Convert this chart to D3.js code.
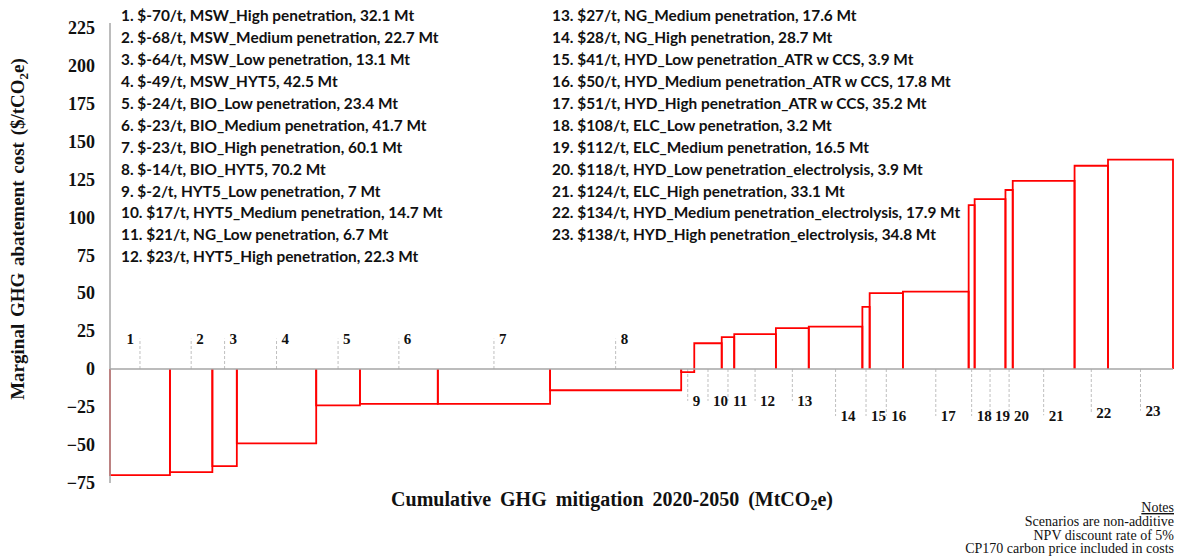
<!DOCTYPE html>
<html lang="en">
<head>
    <meta charset="utf-8">
    <title>Marginal abatement cost curve</title>
    <style type="text/css">
        body{ margin:0; background:#fff; }
        .legend text{ font-family: Lato, "DejaVu Sans", sans-serif; font-weight:700; font-size:15.4px; fill:#111; }
        .serif{ font-family: "Liberation Serif", "Times New Roman", serif; }
        .axis .domain{ stroke:#a6a6a6; stroke-width:1.5; }
        .axis text{ font-family: "Liberation Serif", serif; font-weight:700; font-size:18px; fill:#111; }
        .step{ fill:none; stroke:#ff0000; stroke-width:1.8; }
        .lead{ stroke:#bfbfbf; stroke-width:1; stroke-dasharray:3,2; }
        .num{ font-family: "Liberation Serif", serif; font-weight:700; font-size:15px; fill:#111; }
    </style>
</head>
<body>
   <svg class="svg_macc" width="1177" height="559"></svg>

   <script src="https://d3js.org/d3.v7.min.js"></script>
   <script>
        // abatement options, cost ($/t) and cumulative mitigation (Mt)
        var options = [
            'MSW_High penetration', 'MSW_Medium penetration', 'MSW_Low penetration', 'MSW_HYT5',
            'BIO_Low penetration', 'BIO_Medium penetration', 'BIO_High penetration', 'BIO_HYT5',
            'HYT5_Low penetration', 'HYT5_Medium penetration', 'NG_Low penetration', 'HYT5_High penetration',
            'NG_Medium penetration', 'NG_High penetration', 'HYD_Low penetration_ATR w CCS',
            'HYD_Medium penetration_ATR w CCS', 'HYD_High penetration_ATR w CCS', 'ELC_Low penetration',
            'ELC_Medium penetration', 'HYD_Low penetration_electrolysis', 'ELC_High penetration',
            'HYD_Medium penetration_electrolysis', 'HYD_High penetration_electrolysis'
        ];
        var costs = [-70, -68, -64, -49, -24, -23, -23, -14, -2, 17, 21, 23, 27, 28, 41, 50, 51, 108, 112, 118, 124, 134, 138];
        var mitigation = [32.1, 22.7, 13.1, 42.5, 23.4, 41.7, 60.1, 70.2, 7, 14.7, 6.7, 22.3, 17.6, 28.7, 3.9, 17.8, 35.2, 3.2, 16.5, 3.9, 33.1, 17.9, 34.8];
        // height of the numbered bar labels, in $/t (hidden label series)
        var labelLevel = [20, 20, 20, 20, 20, 20, 20, 20, -21, -21, -21, -21, -21, -31, -31, -31, -31, -31, -31, -31, -30.5, -29, -27.5];
        var yTicks = [-75, -50, -25, 0, 25, 50, 75, 100, 125, 150, 175, 200, 225];
        var notes = ['Scenarios are non-additive', 'NPV discount rate of 5%', 'CP170 carbon price included in costs'];

        var svg = d3.select('.svg_macc');

        // cumulative start/end of each step
        var acc = 0;
        var data = costs.map(function(c, i){
            var d = {n: i + 1, cost: c, mt: mitigation[i], option: options[i], x0: acc, x1: acc + mitigation[i], lab: labelLevel[i]};
            acc += mitigation[i];
            return d;
        });

        var xscale = d3.scaleLinear().domain([0, acc]).range([110, 1173]);
        var yscale = d3.scaleLinear().domain([-75, 225]).range([482.8, 27.7]);

        // legend
        var legend = svg.append('g').attr('class', 'legend');
        legend.selectAll('text')
            .data(data)
            .enter()
            .append('text')
            .attr('x', function(d){ return d.n <= 12 ? 121 : 552; })
            .attr('y', function(d){ return 16 + 21.9 * (d.n <= 12 ? d.n - 1 : d.n - 13); })
            .attr('dy', '0.35em')
            .text(function(d){ return d.n + '. $' + d.cost + '/t, ' + d.option + ', ' + d.mt + ' Mt'; });

        // leader lines and numbers
        svg.selectAll('.lead')
            .data(data)
            .enter()
            .append('line')
            .attr('class', 'lead')
            .attr('x1', function(d){ return xscale((d.x0 + d.x1) / 2); })
            .attr('x2', function(d){ return xscale((d.x0 + d.x1) / 2); })
            .attr('y1', yscale(0))
            .attr('y2', function(d){ return yscale(d.lab); });

        svg.selectAll('.num')
            .data(data)
            .enter()
            .append('text')
            .attr('class', 'num')
            .attr('x', function(d){ return xscale((d.x0 + d.x1) / 2) + (d.n === 1 ? -6 : 5); })
            .attr('y', function(d){ return yscale(d.lab); })
            .attr('dy', '0.35em')
            .attr('text-anchor', function(d){ return d.n === 1 ? 'end' : 'start'; })
            .text(function(d){ return d.n; });

        // steps, three sides each
        svg.selectAll('.step')
            .data(data)
            .enter()
            .append('path')
            .attr('class', 'step')
            .attr('d', function(d){
                var p = d3.path();
                p.moveTo(xscale(d.x0), yscale(0));
                p.lineTo(xscale(d.x0), yscale(d.cost));
                p.lineTo(xscale(d.x1), yscale(d.cost));
                p.lineTo(xscale(d.x1), yscale(0));
                return p.toString();
            });

        // zero line
        svg.append('line')
            .attr('x1', xscale(0)).attr('x2', xscale(acc))
            .attr('y1', yscale(0)).attr('y2', yscale(0))
            .attr('stroke', '#a6a6a6').attr('stroke-width', 1.5);

        // y axis
        var yAxis = d3.axisLeft(yscale).tickValues(yTicks).tickSize(0).tickPadding(15);
        var ax = svg.append('g')
            .attr('class', 'axis')
            .attr('transform', 'translate(' + xscale(0) + ',0)')
            .call(yAxis);
        ax.select('.domain').attr('d', 'M0,23V483');

        // axis titles
        var yt = svg.append('text')
            .attr('class', 'serif')
            .attr('transform', 'translate(24,229) rotate(-90)')
            .attr('text-anchor', 'middle')
            .attr('word-spacing', 2)
            .attr('font-size', 19).attr('font-weight', 700).attr('fill', '#111');
        yt.append('tspan').text('Marginal GHG abatement cost ($/tCO');
        yt.append('tspan').attr('font-size', 13).attr('dy', 4).text('2');
        yt.append('tspan').attr('dy', -4).text('e)');

        var xt = svg.append('text')
            .attr('class', 'serif')
            .attr('x', 612).attr('y', 506)
            .attr('text-anchor', 'middle')
            .attr('word-spacing', 4)
            .attr('font-size', 20).attr('font-weight', 700).attr('fill', '#111');
        xt.append('tspan').text('Cumulative GHG mitigation 2020-2050 (MtCO');
        xt.append('tspan').attr('font-size', 14).attr('dy', 4).text('2');
        xt.append('tspan').attr('dy', -4).text('e)');

        // notes
        var ng = svg.append('g').attr('class', 'serif').attr('font-size', 14).attr('fill', '#111').attr('text-anchor', 'end');
        ng.append('text').attr('x', 1174).attr('y', 512).attr('text-decoration', 'underline').text('Notes');
        ng.selectAll('.note')
            .data(notes)
            .enter()
            .append('text')
            .attr('class', 'note')
            .attr('x', 1174)
            .attr('y', function(d, i){ return 526 + 13.6 * i; })
            .text(function(d){ return d; });
   </script>
</body>
</html>
